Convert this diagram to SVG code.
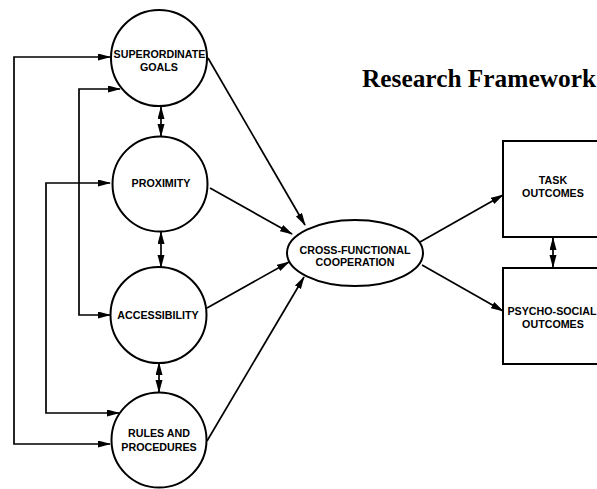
<svg xmlns="http://www.w3.org/2000/svg" width="597" height="489" viewBox="0 0 597 489">
<defs>
<marker id="ah" markerUnits="userSpaceOnUse" markerWidth="13" markerHeight="8" refX="12" refY="3.5" orient="auto-start-reverse">
<path d="M0,0 L13,3.5 L0,7 z" fill="#000"/>
</marker>
</defs>
<style>
.n{fill:#fff;stroke:#000;stroke-width:2}
.t{font-family:"Liberation Sans",Arial,sans-serif;font-weight:bold;font-size:10.7px;text-anchor:middle;fill:#000}
.c{fill:none;stroke:#000;stroke-width:1.7}
.a{marker-end:url(#ah)}
.d{marker-start:url(#ah);marker-end:url(#ah)}
.title{font-family:"Liberation Serif","Times New Roman",serif;font-weight:bold;font-size:25px;fill:#000}
</style>
<rect width="597" height="489" fill="#fff"/>
<text class="title" x="362" y="87" textLength="234" lengthAdjust="spacingAndGlyphs">Research Framework</text>
<g id="connectors">
<polyline class="c d" points="110,57 14,57 14,444 110,444"/>
<polyline class="c d" points="120,89 79,89 79,315 110,315"/>
<polyline class="c d" points="110,183 46,183 46,413 119,413"/>
<line class="c d" x1="161" y1="107" x2="161" y2="136"/>
<line class="c d" x1="161" y1="232" x2="161" y2="267"/>
<line class="c d" x1="159" y1="363" x2="159" y2="392"/>
<line class="c a" x1="208" y1="58" x2="305" y2="225"/>
<line class="c a" x1="210" y1="188" x2="292" y2="234"/>
<line class="c a" x1="207" y1="308" x2="289" y2="262"/>
<line class="c a" x1="207" y1="441" x2="304" y2="277"/>
<line class="c a" x1="420" y1="242" x2="503" y2="195"/>
<line class="c a" x1="422" y1="265" x2="503" y2="311"/>
<line class="c d" x1="553" y1="238" x2="553" y2="267"/>
</g>
<g id="superordinate-goals">
<circle class="n" cx="159" cy="58" r="48"/>
<text class="t" x="159.5" y="57.5">SUPERORDINATE</text>
<text class="t" x="159" y="71">GOALS</text>
</g>
<g id="proximity">
<circle class="n" cx="160" cy="184" r="47.5"/>
<text class="t" x="161" y="187">PROXIMITY</text>
</g>
<g id="accessibility">
<circle class="n" cx="158.5" cy="315" r="48"/>
<text class="t" x="158" y="319">ACCESSIBILITY</text>
</g>
<g id="rules-and-procedures">
<circle class="n" cx="159" cy="440" r="47.5"/>
<text class="t" x="159" y="437">RULES AND</text>
<text class="t" x="159" y="451">PROCEDURES</text>
</g>
<g id="cross-functional-cooperation">
<ellipse class="n" cx="355" cy="253" rx="68" ry="33"/>
<text class="t" x="355" y="253.5">CROSS-FUNCTIONAL</text>
<text class="t" x="355" y="266">COOPERATION</text>
</g>
<g id="task-outcomes">
<rect class="n" x="503" y="141" width="100" height="96"/>
<text class="t" x="553" y="184">TASK</text>
<text class="t" x="553" y="197">OUTCOMES</text>
</g>
<g id="psycho-social-outcomes">
<rect class="n" x="503" y="268" width="100" height="96"/>
<text class="t" x="552" y="315">PSYCHO-SOCIAL</text>
<text class="t" x="553" y="328">OUTCOMES</text>
</g>
</svg>
